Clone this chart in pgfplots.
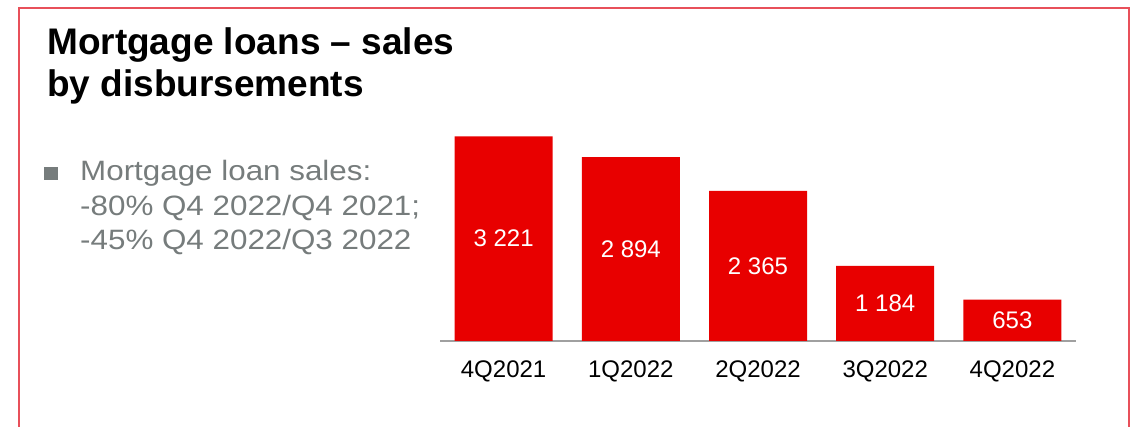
\documentclass[border=0pt]{standalone}
\usepackage{pgfplots}
\pgfplotsset{compat=1.18}
\usepackage{fontspec}
\setmainfont{Liberation Sans}
\definecolor{barred}{RGB}{232,0,0}
\definecolor{framered}{RGB}{232,80,90}
\definecolor{bulletgray}{RGB}{118,124,124}
\definecolor{basegray}{RGB}{160,160,160}
\begin{document}
\begin{tikzpicture}[x=1pt,y=1pt]
\path[use as bounding box] (0,0) rectangle (1140,427);
% frame
\draw[framered, line width=1.5pt] (19,0) -- (19,419) -- (1129,419) -- (1129,0);
% title
\node[anchor=base west, inner sep=0pt, font=\fontsize{37}{42}\selectfont\bfseries] at (47,372) {Mortgage loans – sales};
\node[anchor=base west, inner sep=0pt, font=\fontsize{37}{42}\selectfont\bfseries] at (47,330) {by disbursements};
% bullet
\fill[bulletgray] (44,247) rectangle (58,260);
\begin{scope}[every node/.style={anchor=base west, inner sep=0pt, text=bulletgray, font=\fontsize{28}{34}\selectfont}]
\node at (80,246) {\scalebox{1.12}[1]{Mortgage loan sales:}};
\node at (80,211) {\scalebox{1.12}[1]{-80\% Q4 2022/Q4 2021;}};
\node at (80,177) {\scalebox{1.12}[1]{-45\% Q4 2022/Q3 2022}};
\end{scope}
\begin{axis}[
  at={(440pt,86pt)}, anchor=south west,
  scale only axis, width=636pt, height=222.25pt,
  xmin=-0.5, xmax=4.5, ymin=0, ymax=3500,
  axis y line=none, axis x line*=bottom,
  x axis line style={basegray, line width=1.5pt, -},
  xtick=data, major tick length=0pt,
  xticklabels={4Q2021,1Q2022,2Q2022,3Q2022,4Q2022},
  xticklabel style={anchor=base, yshift=-37pt, font=\fontsize{24}{28}\selectfont},
  ybar, bar width=98pt,
  visualization depends on={y/2 \as \halfy},
  nodes near coords={\pgfmathprintnumber[fixed, 1000 sep={\ }, assume math mode=true]{\pgfplotspointmeta}},
  every node near coord/.append style={anchor=center, text=white, font=\fontsize{24}{28}\selectfont, shift={(axis direction cs:0,-\halfy)}},
]
\addplot[fill=barred, draw=none] coordinates {(0,3221) (1,2894) (2,2365) (3,1184) (4,653)};
\end{axis}
\end{tikzpicture}
\end{document}
